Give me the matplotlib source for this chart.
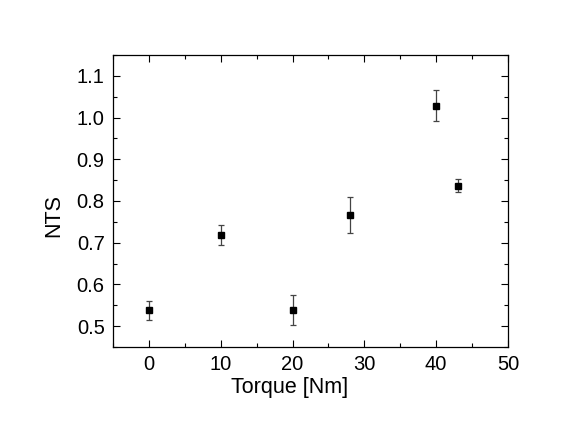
import matplotlib
matplotlib.use("Agg")
import matplotlib.pyplot as plt
from matplotlib.ticker import MultipleLocator

# data
torque = [0, 10, 20, 28, 40, 43]
nts = [0.538, 0.718, 0.539, 0.767, 1.028, 0.837]
nts_err = [0.023, 0.024, 0.036, 0.043, 0.037, 0.016]

plt.rcParams['font.family'] = ['Liberation Sans', 'DejaVu Sans']

fig = plt.figure(figsize=(5.64, 4.36), dpi=100)
ax = fig.add_axes([0.2004, 0.2041, 0.7003, 0.6698])

ax.errorbar(torque, nts, yerr=nts_err, fmt='s', color='black', markersize=4,
            ecolor='#444444', elinewidth=0.9, capsize=2.5, capthick=0.9)

ax.set_xlim(-5, 50)
ax.set_ylim(0.45, 1.15)
ax.xaxis.set_major_locator(MultipleLocator(10))
ax.xaxis.set_minor_locator(MultipleLocator(5))
ax.yaxis.set_major_locator(MultipleLocator(0.1))
ax.yaxis.set_minor_locator(MultipleLocator(0.05))
ax.yaxis.set_major_formatter(plt.FormatStrFormatter('%.1f'))

ax.tick_params(which='both', direction='in', top=True, right=True, labelsize=14.5, width=0.8)
ax.tick_params(which='major', length=5, pad=6)
ax.tick_params(which='minor', length=3)
for s in ax.spines.values():
    s.set_linewidth(0.9)

# labels sit a bit off-centre in the original
ax.set_xlabel("Torque [Nm]", fontsize=15.5, labelpad=2, x=0.448)
ax.set_ylabel("NTS", fontsize=15.5, labelpad=9, y=0.452)

plt.savefig("out.png", dpi=100)
